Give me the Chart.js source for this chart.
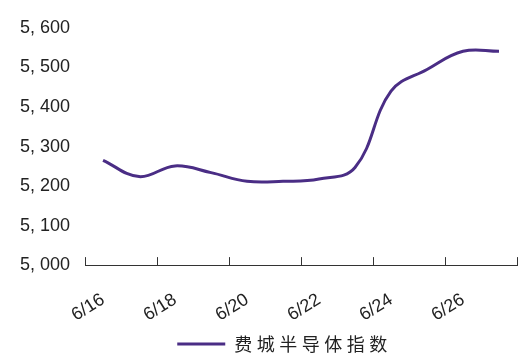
<!DOCTYPE html>
<html>
<head>
<meta charset="utf-8">
<script src="https://cdn.jsdelivr.net/npm/chart.js@4/dist/chart.umd.min.js"></script>
<style>
  html, body { margin: 0; padding: 0; background: #fff; }
  #wrap { width: 522px; height: 363px; }
</style>
</head>
<body>
<div id="wrap"><canvas id="myChart" width="522" height="363"></canvas></div>
<script>
// dates and index values
const fechas = ['6/16','6/17','6/18','6/19','6/20','6/21','6/22','6/23','6/24','6/25','6/26','6/27'];
const valores = [5265, 5224, 5251, 5234, 5212, 5212, 5218, 5247, 5440, 5495, 5541, 5541];
const nombreSerie = '费城半导体指数';
const yTicks = [5000, 5100, 5200, 5300, 5400, 5500, 5600];

// little ticks pointing up from the x axis, every two days
const marcasEje = {
  id: 'marcasEje',
  afterDraw(chart) {
    const x = chart.scales.x;
    const ctx = chart.ctx;
    const ancho = x.getPixelForValue(1) - x.getPixelForValue(0);
    ctx.save();
    ctx.strokeStyle = '#333';
    ctx.lineWidth = 1;
    for (let i = 0; i <= fechas.length; i += 2) {
      const px = Math.round(x.getPixelForValue(i) - ancho / 2) + 0.5;
      ctx.beginPath();
      ctx.moveTo(px, x.top);
      ctx.lineTo(px, x.top - 8);
      ctx.stroke();
    }
    ctx.restore();
  }
};

const ctx = document.getElementById('myChart').getContext('2d');
const grafico = new Chart(ctx, {
  type: 'line',
  data: {
    labels: fechas,
    datasets: [{
      label: nombreSerie,
      data: valores,
      borderColor: '#4a2d85',
      backgroundColor: '#4a2d85',
      borderWidth: 3,
      pointRadius: 0,
      tension: 0.4,
      fill: false
    }]
  },
  options: {
    responsive: false,
    animation: false,
    layout: { padding: { left: 20, right: 5, top: 28, bottom: 0 } },
    scales: {
      x: {
        offset: true,
        grid: { display: false, tickLength: 24 },
        border: { display: true, color: '#333', width: 1 },
        afterFit: function(scale) { scale.paddingLeft = 0; scale.paddingRight = 0; },
        ticks: {
          autoSkip: false,
          minRotation: 32,
          maxRotation: 32,
          padding: 0,
          color: '#222',
          font: { family: 'Liberation Sans, Arial', size: 18 },
          callback: function(val, i) { return i % 2 === 0 ? fechas[i] : null; }
        }
      },
      y: {
        min: 5000,
        max: 5600,
        afterBuildTicks: function(scale) { scale.ticks = yTicks.map(v => ({ value: v })); },
        grid: { display: false, tickLength: 15 },
        border: { display: false },
        ticks: {
          padding: 0,
          color: '#222',
          font: { family: 'Liberation Sans, Arial', size: 18 },
          callback: function(v) { return v.toLocaleString('en-US').replace(',', ', '); }
        }
      }
    },
    plugins: {
      legend: {
        position: 'bottom',
        labels: {
          boxWidth: 48,
          boxHeight: 3,
          padding: 9,
          color: '#222',
          font: { family: 'Noto Sans CJK SC', size: 18 },
          generateLabels: function(chart) {
            return Chart.defaults.plugins.legend.labels.generateLabels(chart).map(l => Object.assign(l, { lineWidth: 0 }));
          }
        }
      },
      tooltip: { enabled: false }
    }
  },
  plugins: [marcasEje]
});

// the legend text in the original is widely spaced
const leyenda = grafico.legend;
const fitOriginal = leyenda.fit;
const drawOriginal = leyenda.draw;
leyenda.fit = function() {
  this.ctx.letterSpacing = '4.5px';
  fitOriginal.call(this);
  this.ctx.letterSpacing = '0px';
};
leyenda.draw = function() {
  this.ctx.save();
  this.ctx.letterSpacing = '4.5px';
  this.ctx.translate(16, 0);
  drawOriginal.call(this);
  this.ctx.restore();
};
grafico.update();
</script>
</body>
</html>
